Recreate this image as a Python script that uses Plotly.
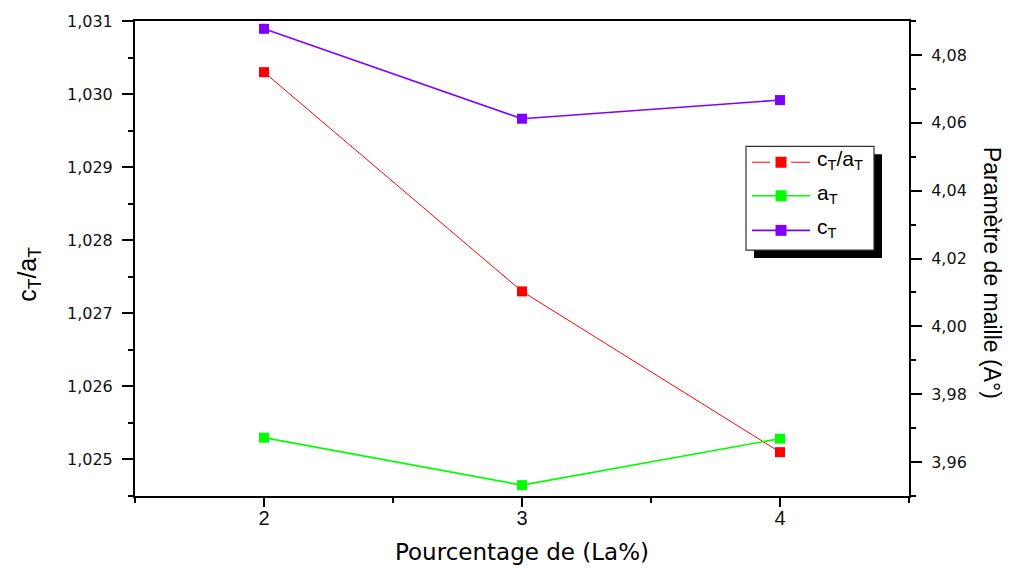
import plotly.graph_objects as go

# La content (%)
la_pct = [2, 3, 4]
# tetragonal ratio c/a (left axis)
ratio_ca = [1.0303, 1.0273, 1.0251]
# lattice parameters in angstrom (right axis)
a_T = [3.9672, 3.9532, 3.9669]
c_T = [4.0877, 4.0612, 4.0667]

x_ticks = [2, 3, 4]
x_minor = [1.5, 2.5, 3.5, 4.5]
left_ticks = [1.025, 1.026, 1.027, 1.028, 1.029, 1.030, 1.031]
left_minor = [1.0245, 1.0255, 1.0265, 1.0275, 1.0285, 1.0295, 1.0305]
right_ticks = [3.96, 3.98, 4.00, 4.02, 4.04, 4.06, 4.08]
right_minor = [3.95, 3.97, 3.99, 4.01, 4.03, 4.05, 4.07, 4.09]

RED = "#FF0000"
GREEN = "#00FF00"
PURPLE = "#8000FF"
TICK_FONT = dict(family="DejaVu Sans", size=16, color="#111111")

fig = go.Figure()
fig.add_trace(go.Scatter(x=la_pct, y=ratio_ca, mode="lines+markers", yaxis="y",
                         line=dict(color=RED, width=1),
                         marker=dict(symbol="square", size=10, color=RED),
                         showlegend=False))
fig.add_trace(go.Scatter(x=la_pct, y=a_T, mode="lines+markers", yaxis="y2",
                         line=dict(color=GREEN, width=1.6),
                         marker=dict(symbol="square", size=10, color=GREEN),
                         showlegend=False))
fig.add_trace(go.Scatter(x=la_pct, y=c_T, mode="lines+markers", yaxis="y2",
                         line=dict(color=PURPLE, width=1.6),
                         marker=dict(symbol="square", size=10, color=PURPLE),
                         showlegend=False))

# plot-area geometry in pixels, used to place the legend box
L, R, T, B = 135, 909, 15, 496
W, H = R - L, B - T


def px(xp):
    return (xp - L) / W


def py(yp):
    return (B - yp) / H


shapes = []
# legend shadow and frame
shapes.append(dict(type="rect", xref="paper", yref="paper", layer="above",
                   x0=px(754), x1=px(882), y0=py(255), y1=py(150),
                   fillcolor="black", line=dict(width=0)))
shapes.append(dict(type="rect", xref="paper", yref="paper", layer="above",
                   x0=px(746), x1=px(874), y0=py(247), y1=py(142),
                   fillcolor="white", line=dict(color="#333333", width=1.2)))

legend_rows = [
    ("c<sub>T</sub>/a<sub>T</sub>", RED, 158, 1, True),
    ("a<sub>T</sub>", GREEN, 192, 1.6, False),
    ("c<sub>T</sub>", PURPLE, 227, 1.6, False),
]
annotations = []
for label, col, yrow, lw, gapped in legend_rows:
    yr = py(yrow)
    if gapped:
        segs = [(752, 770), (791, 810)]
    else:
        segs = [(752, 810)]
    for a, b in segs:
        shapes.append(dict(type="line", xref="paper", yref="paper", layer="above",
                           x0=px(a), x1=px(b), y0=yr, y1=yr,
                           line=dict(color=col, width=lw)))
    shapes.append(dict(type="rect", xref="paper", yref="paper", layer="above",
                       xsizemode="pixel", ysizemode="pixel",
                       xanchor=px(781), yanchor=yr,
                       x0=-5.5, x1=5.5, y0=-5.5, y1=5.5,
                       fillcolor=col, line=dict(width=0)))
    annotations.append(dict(text=label, xref="paper", yref="paper",
                            x=px(815), y=yr + 0.004, xanchor="left", yanchor="middle",
                            showarrow=False,
                            font=dict(family="Arial, Liberation Sans", size=21, color="black")))

# axis titles
annotations.append(dict(text="c<sub>T</sub>/a<sub>T</sub>", xref="paper", yref="paper",
                        x=px(29), y=py(272), textangle=-90, showarrow=False,
                        xanchor="center", yanchor="middle",
                        font=dict(family="Arial, Liberation Sans", size=25, color="black")))
annotations.append(dict(text="Paramètre de maille (A°)", xref="paper", yref="paper",
                        x=px(992), y=py(270), textangle=90, showarrow=False,
                        xanchor="center", yanchor="middle",
                        font=dict(family="Arial, Liberation Sans", size=23, color="black")))
annotations.append(dict(text="Pourcentage de (La%)", xref="paper", yref="paper",
                        x=px(522), y=py(553), showarrow=False,
                        xanchor="center", yanchor="middle",
                        font=dict(family="DejaVu Sans", size=23, color="black")))

axis_common = dict(showgrid=False, zeroline=False, showline=True,
                   linecolor="black", linewidth=2, tickcolor="black",
                   tickwidth=2)

fig.update_layout(
    width=1015, height=571, autosize=False,
    margin=dict(l=L, r=1015 - R, t=T, b=571 - B),
    paper_bgcolor="white", plot_bgcolor="white",
    separators=", ",
    showlegend=False,
    xaxis=dict(range=[1.5, 4.5], tickmode="array", tickvals=x_ticks,
               ticktext=[str(v) for v in x_ticks],
               ticks="outside", ticklen=9, mirror=True,
               tickfont=dict(family="Arial, Liberation Sans", size=20, color="#111111"),
               ticklabelstandoff=-6,
               minor=dict(tickvals=x_minor, ticks="outside", ticklen=5,
                          tickwidth=2, tickcolor="black"),
               **axis_common),
    xaxis2=dict(range=[1.5, 4.5], overlaying="x", side="top",
                tickmode="array", tickvals=[2], ticks="inside", ticklen=10,
                tickwidth=2, tickcolor="black", showticklabels=False,
                showgrid=False, zeroline=False, showline=False),
    yaxis=dict(range=[1.0245, 1.031], tickmode="array", tickvals=left_ticks,
               tickformat=".3f", ticks="outside", ticklen=11,
               tickfont=TICK_FONT, ticklabelstandoff=6,
               minor=dict(tickvals=left_minor, ticks="outside", ticklen=5,
                          tickwidth=2, tickcolor="black"),
               **axis_common),
    yaxis2=dict(range=[3.95, 4.09], overlaying="y", side="right",
                tickmode="array", tickvals=right_ticks, tickformat=".2f",
                ticks="outside", ticklen=11, tickfont=TICK_FONT,
                ticklabelstandoff=6,
                minor=dict(tickvals=right_minor, ticks="outside", ticklen=5,
                           tickwidth=2, tickcolor="black"),
                **axis_common),
    shapes=shapes,
    annotations=annotations,
)

fig.write_html("out.html")
